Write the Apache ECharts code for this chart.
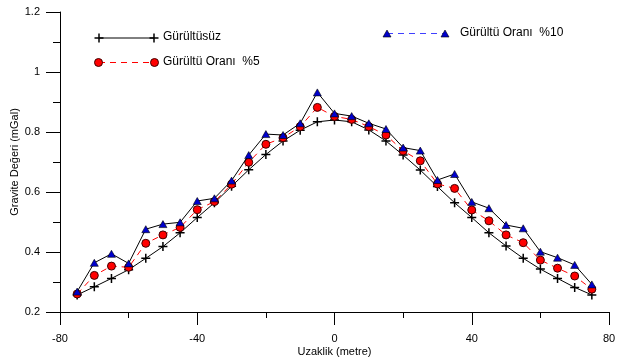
<!DOCTYPE html>
<html>
<head>
<meta charset="utf-8">
<script src="https://cdn.jsdelivr.net/npm/echarts@6/dist/echarts.min.js"></script>
<style>html,body{margin:0;padding:0;background:#fff}#c{width:617px;height:358px}</style>
</head>
<body>
<div id="c"></div>
<script>
const distances = [-75,-70,-65,-60,-55,-50,-45,-40,-35,-30,-25,-20,-15,-10,-5,0,5,10,15,20,25,30,35,40,45,50,55,60,65,70,75];
const noiseFree = [0.257,0.284,0.312,0.341,0.379,0.418,0.464,0.515,0.564,0.619,0.674,0.725,0.77,0.806,0.834,0.84,0.834,0.807,0.77,0.723,0.673,0.618,0.564,0.515,0.464,0.42,0.379,0.343,0.312,0.282,0.257];
const noise5 = [0.26,0.322,0.353,0.349,0.429,0.457,0.482,0.541,0.568,0.626,0.699,0.759,0.781,0.818,0.882,0.852,0.842,0.818,0.79,0.737,0.704,0.627,0.612,0.54,0.504,0.457,0.431,0.373,0.346,0.32,0.276];
const noise10 = [0.268,0.364,0.394,0.362,0.476,0.493,0.499,0.57,0.579,0.638,0.723,0.793,0.79,0.829,0.932,0.862,0.853,0.829,0.81,0.748,0.738,0.64,0.66,0.567,0.546,0.49,0.479,0.401,0.381,0.357,0.292];
const xTicks = [-80,-40,0,40,80];
const yTicks = [0.2,0.4,0.6,0.8,1,1.2];
const legendNames = ['Gürültüsüz','Gürültü Oranı  %5','Gürültü Oranı  %10'];
const xName = 'Uzaklik (metre)';
const yName = 'Gravite Değeri (mGal)';

const FONT = '"Liberation Sans", Arial, sans-serif';
const crossPath = 'path://M5,0h2v5h5v2h-5v5h-2v-5h-5v-2h5z';
const pair = arr => distances.map((d,i)=>[d,arr[i]]);

const chart = echarts.init(document.getElementById('c'), null, {renderer:'canvas'});
chart.setOption({
  animation:false,
  backgroundColor:'#fff',
  grid:{left:60,right:8,top:12,bottom:46,containLabel:false,outerBoundsMode:'none'},
  xAxis:{
    type:'value', min:xTicks[0], max:xTicks[xTicks.length-1], interval:40,
    name:xName, nameLocation:'middle', nameGap:34, nameMoveOverlap:false,
    nameTextStyle:{color:'#000',fontSize:11,fontFamily:FONT},
    axisLine:{show:true,onZero:false,lineStyle:{color:'#000',width:1}},
    axisTick:{show:true,inside:false,length:13,lineStyle:{color:'#000'}},
    minorTick:{show:true,splitNumber:2,length:6,lineStyle:{color:'#000'}},
    splitLine:{show:false},
    axisLabel:{color:'#000',fontSize:11,fontFamily:FONT,margin:21}
  },
  yAxis:{
    type:'value', min:yTicks[0], max:yTicks[yTicks.length-1], interval:0.2,
    name:yName, nameLocation:'middle', nameGap:40, nameMoveOverlap:false,
    nameTextStyle:{color:'#000',fontSize:11,fontFamily:FONT},
    axisLine:{show:true,onZero:false,lineStyle:{color:'#000',width:1}},
    axisTick:{show:true,inside:false,length:14,lineStyle:{color:'#000'}},
    minorTick:{show:true,splitNumber:2,length:7,lineStyle:{color:'#000'}},
    splitLine:{show:false},
    axisLabel:{color:'#000',fontSize:11,fontFamily:FONT,margin:20}
  },
  series:[
    {name:legendNames[0],type:'line',data:pair(noiseFree),symbol:crossPath,symbolSize:9,
     lineStyle:{color:'#000',width:1},itemStyle:{color:'#000'},z:2},
    {name:legendNames[1],type:'line',data:pair(noise5),symbol:'circle',symbolSize:8,
     lineStyle:{color:'#ff0000',width:1,type:[6,5]},itemStyle:{color:'#ff0000',borderColor:'#400000',borderWidth:1},z:3},
    {name:legendNames[2],type:'line',data:pair(noise10),symbol:'triangle',symbolSize:[8,7],
     lineStyle:{color:'#000',width:1},itemStyle:{color:'#0000cc',borderColor:'#000',borderWidth:0.6},z:4}
  ],
  graphic:[
    {type:'line',shape:{x1:99,y1:38,x2:154,y2:38},style:{stroke:'#000',lineWidth:1}},
    {type:'line',shape:{x1:94.5,y1:38,x2:103.5,y2:38},style:{stroke:'#000',lineWidth:1.5}},
    {type:'line',shape:{x1:99,y1:33.5,x2:99,y2:42.5},style:{stroke:'#000',lineWidth:1.5}},
    {type:'line',shape:{x1:149.5,y1:38,x2:158.5,y2:38},style:{stroke:'#000',lineWidth:1.5}},
    {type:'line',shape:{x1:154,y1:33.5,x2:154,y2:42.5},style:{stroke:'#000',lineWidth:1.5}},
    {type:'text',left:163,top:31,style:{text:legendNames[0],fill:'#000',font:'12px '+FONT}},

    {type:'line',shape:{x1:99,y1:62.5,x2:154,y2:62.5},style:{stroke:'#ff0000',lineWidth:1,lineDash:[6,5]}},
    {type:'circle',shape:{cx:98.5,cy:62.5,r:4},style:{fill:'#ff0000',stroke:'#400000',lineWidth:1}},
    {type:'circle',shape:{cx:154.5,cy:62.5,r:4},style:{fill:'#ff0000',stroke:'#400000',lineWidth:1}},
    {type:'text',left:163,top:55.5,style:{text:legendNames[1],fill:'#000',font:'12px '+FONT}},

    {type:'line',shape:{x1:387,y1:33.5,x2:445,y2:33.5},style:{stroke:'#4040ff',lineWidth:1,lineDash:[6,5]}},
    {type:'polygon',shape:{points:[[387,30],[391,37],[383,37]]},style:{fill:'#0000cc',stroke:'#000',lineWidth:0.6}},
    {type:'polygon',shape:{points:[[445,30],[449,37],[441,37]]},style:{fill:'#0000cc',stroke:'#000',lineWidth:0.6}},
    {type:'text',left:460,top:27,style:{text:legendNames[2],fill:'#000',font:'12px '+FONT}}
  ]
});
</script>
</body>
</html>
